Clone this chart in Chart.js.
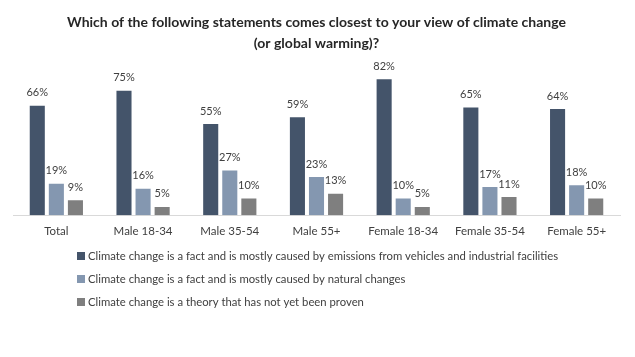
<!DOCTYPE html>
<html><head><meta charset="utf-8">
<script src="https://cdn.jsdelivr.net/npm/chart.js@4.4.1/dist/chart.umd.min.js"></script>
<style>html,body{margin:0;padding:0;background:#fff}#wrap{width:635px;height:357px;position:relative}</style>
</head><body><div id="wrap"><canvas id="c" width="635" height="357"></canvas></div>
<script>
const categories = ["Total","Male 18-34","Male 35-54","Male 55+","Female 18-34","Female 35-54","Female 55+"];
const seriesNames = [
  "Climate change is a fact and is mostly caused by emissions from vehicles and industrial facilities",
  "Climate change is a fact and is mostly caused by natural changes",
  "Climate change is a theory that has not yet been proven"
];
const emissions = [66,75,55,59,82,65,64];
const natural = [19,16,27,23,10,17,18];
const theory = [9,5,10,13,5,11,10];
const titleLines = ["Which of the following statements comes closest to your view of climate change","(or global warming)?"];
const colors = ["#44546A","#8497B0","#7F7F7F"];
const FONT = "Lato, 'Open Sans', sans-serif";
const TXT = "#404040";

const valueLabels = {
  id:'valueLabels',
  afterDatasetsDraw(chart){
    const ctx = chart.ctx;
    ctx.save();
    ctx.font = "11px " + FONT;
    ctx.fillStyle = TXT;
    ctx.textAlign = 'center';
    ctx.textBaseline = 'middle';
    chart.data.datasets.forEach((ds,i)=>{
      chart.getDatasetMeta(i).data.forEach((el,j)=>{
        ctx.fillText(ds.data[j] + "%", el.x, el.y - 13);
      });
    });
    ctx.restore();
  }
};
const customLegend = {
  id:'customLegend',
  afterDraw(chart){
    const ctx = chart.ctx;
    ctx.save();
    ctx.font = "11.3px " + FONT;
    ctx.textBaseline = 'middle';
    ctx.textAlign = 'left';
    chart.data.datasets.forEach((ds,i)=>{
      const y = 256 + i*23;
      ctx.fillStyle = ds.backgroundColor;
      ctx.fillRect(77, y-4, 8, 8);
      ctx.fillStyle = TXT;
      ctx.fillText(ds.label, 88, y);
    });
    ctx.restore();
  }
};

new Chart(document.getElementById('c'), {
  type:'bar',
  data:{
    labels: categories,
    datasets:[
      {label: seriesNames[0], data: emissions, backgroundColor: colors[0]},
      {label: seriesNames[1], data: natural, backgroundColor: colors[1]},
      {label: seriesNames[2], data: theory, backgroundColor: colors[2]}
    ]
  },
  options:{
    responsive:false,
    animation:false,
    devicePixelRatio:1,
    layout:{padding:{left:13,right:15,top:0,bottom:110}},
    categoryPercentage:0.66,
    barPercentage:0.79,
    plugins:{
      legend:{display:false},
      tooltip:{enabled:false},
      title:{display:true,text:titleLines,color:"#262626",
        font:{family:FONT,size:14,weight:'bold',lineHeight:1.5},
        padding:{top:11.5,bottom:0}}
    },
    scales:{
      x:{
        grid:{display:false,drawTicks:false},
        border:{display:true,color:"#D9D9D9",width:1},
        ticks:{color:TXT,font:{family:FONT,size:11.5},padding:9,maxRotation:0,autoSkip:false}
      },
      y:{display:false,min:0,max:97.5}
    }
  },
  plugins:[valueLabels,customLegend]
});
</script></body></html>
